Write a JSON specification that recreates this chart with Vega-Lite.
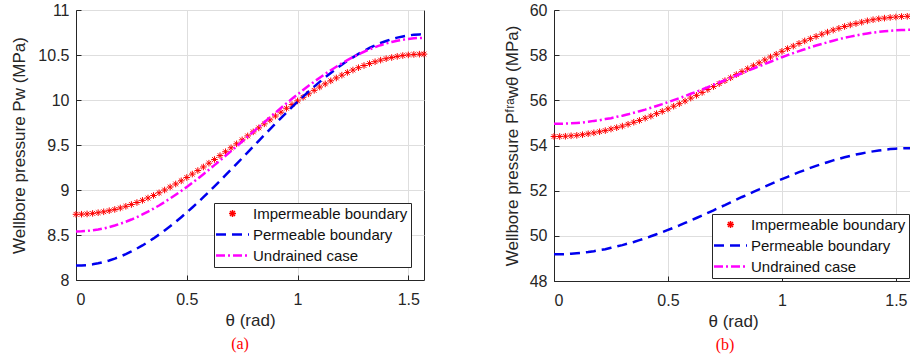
{
  "$schema": "https://vega.github.io/schema/vega-lite/v6.json",
  "background": "white",
  "padding": {"left": 10, "top": 1, "right": 0, "bottom": 0},
  "spacing": 72,
  "datasets": {
    "a": [
      {"t":0,"imp":8.730,"perm":8.160,"und":8.540},{"t":0.025,"imp":8.731,"perm":8.162,"und":8.541},{"t":0.05,"imp":8.734,"perm":8.166,"und":8.545},{"t":0.075,"imp":8.740,"perm":8.174,"und":8.552},{"t":0.1,"imp":8.748,"perm":8.186,"und":8.561},{"t":0.125,"imp":8.758,"perm":8.200,"und":8.573},{"t":0.15,"imp":8.770,"perm":8.217,"und":8.588},{"t":0.175,"imp":8.784,"perm":8.238,"und":8.605},{"t":0.2,"imp":8.800,"perm":8.261,"und":8.625},{"t":0.225,"imp":8.819,"perm":8.288,"und":8.647},{"t":0.25,"imp":8.839,"perm":8.317,"und":8.672},{"t":0.275,"imp":8.861,"perm":8.350,"und":8.699},{"t":0.3,"imp":8.885,"perm":8.384,"und":8.728},{"t":0.325,"imp":8.911,"perm":8.422,"und":8.759},{"t":0.35,"imp":8.939,"perm":8.462,"und":8.793},{"t":0.375,"imp":8.969,"perm":8.505,"und":8.828},{"t":0.4,"imp":9.000,"perm":8.550,"und":8.866},{"t":0.425,"imp":9.033,"perm":8.597,"und":8.906},{"t":0.45,"imp":9.067,"perm":8.646,"und":8.947},{"t":0.475,"imp":9.102,"perm":8.698,"und":8.990},{"t":0.5,"imp":9.139,"perm":8.751,"und":9.034},{"t":0.525,"imp":9.177,"perm":8.806,"und":9.080},{"t":0.55,"imp":9.216,"perm":8.862,"und":9.127},{"t":0.575,"imp":9.256,"perm":8.920,"und":9.176},{"t":0.6,"imp":9.298,"perm":8.979,"und":9.225},{"t":0.625,"imp":9.339,"perm":9.040,"und":9.276},{"t":0.65,"imp":9.382,"perm":9.101,"und":9.327},{"t":0.675,"imp":9.425,"perm":9.164,"und":9.380},{"t":0.7,"imp":9.469,"perm":9.227,"und":9.432},{"t":0.725,"imp":9.513,"perm":9.290,"und":9.485},{"t":0.75,"imp":9.557,"perm":9.354,"und":9.539},{"t":0.775,"imp":9.601,"perm":9.418,"und":9.593},{"t":0.8,"imp":9.646,"perm":9.483,"und":9.646},{"t":0.825,"imp":9.690,"perm":9.547,"und":9.700},{"t":0.85,"imp":9.735,"perm":9.611,"und":9.753},{"t":0.875,"imp":9.779,"perm":9.674,"und":9.807},{"t":0.9,"imp":9.822,"perm":9.737,"und":9.859},{"t":0.925,"imp":9.865,"perm":9.799,"und":9.911},{"t":0.95,"imp":9.908,"perm":9.860,"und":9.963},{"t":0.975,"imp":9.949,"perm":9.921,"und":10.013},{"t":1.0,"imp":9.990,"perm":9.980,"und":10.062},{"t":1.025,"imp":10.030,"perm":10.037,"und":10.111},{"t":1.05,"imp":10.069,"perm":10.094,"und":10.158},{"t":1.075,"imp":10.107,"perm":10.148,"und":10.203},{"t":1.1,"imp":10.144,"perm":10.201,"und":10.248},{"t":1.125,"imp":10.179,"perm":10.252,"und":10.290},{"t":1.15,"imp":10.213,"perm":10.301,"und":10.331},{"t":1.175,"imp":10.245,"perm":10.348,"und":10.370},{"t":1.2,"imp":10.276,"perm":10.393,"und":10.408},{"t":1.225,"imp":10.306,"perm":10.435,"und":10.443},{"t":1.25,"imp":10.333,"perm":10.474,"und":10.476},{"t":1.275,"imp":10.359,"perm":10.512,"und":10.507},{"t":1.3,"imp":10.383,"perm":10.546,"und":10.536},{"t":1.325,"imp":10.405,"perm":10.578,"und":10.563},{"t":1.35,"imp":10.425,"perm":10.607,"und":10.587},{"t":1.375,"imp":10.443,"perm":10.633,"und":10.609},{"t":1.4,"imp":10.459,"perm":10.656,"und":10.628},{"t":1.425,"imp":10.472,"perm":10.676,"und":10.645},{"t":1.45,"imp":10.484,"perm":10.693,"und":10.659},{"t":1.475,"imp":10.494,"perm":10.706,"und":10.670},{"t":1.5,"imp":10.501,"perm":10.717,"und":10.679},{"t":1.525,"imp":10.506,"perm":10.725,"und":10.686},{"t":1.55,"imp":10.509,"perm":10.729,"und":10.689},{"t":1.5708,"imp":10.510,"perm":10.730,"und":10.690}
    ],
    "b": [
      {"t":0,"imp":54.40,"perm":49.18,"und":54.96},{"t":0.025,"imp":54.40,"perm":49.18,"und":54.96},{"t":0.05,"imp":54.41,"perm":49.19,"und":54.97},{"t":0.075,"imp":54.43,"perm":49.21,"und":54.98},{"t":0.1,"imp":54.45,"perm":49.23,"und":55.00},{"t":0.125,"imp":54.48,"perm":49.25,"und":55.02},{"t":0.15,"imp":54.52,"perm":49.28,"und":55.05},{"t":0.175,"imp":54.56,"perm":49.32,"und":55.09},{"t":0.2,"imp":54.61,"perm":49.37,"und":55.12},{"t":0.225,"imp":54.66,"perm":49.41,"und":55.17},{"t":0.25,"imp":54.73,"perm":49.47,"und":55.21},{"t":0.275,"imp":54.79,"perm":49.53,"und":55.27},{"t":0.3,"imp":54.86,"perm":49.59,"und":55.32},{"t":0.325,"imp":54.94,"perm":49.66,"und":55.38},{"t":0.35,"imp":55.03,"perm":49.73,"und":55.45},{"t":0.375,"imp":55.11,"perm":49.81,"und":55.52},{"t":0.4,"imp":55.21,"perm":49.89,"und":55.59},{"t":0.425,"imp":55.30,"perm":49.98,"und":55.67},{"t":0.45,"imp":55.41,"perm":50.07,"und":55.75},{"t":0.475,"imp":55.51,"perm":50.16,"und":55.83},{"t":0.5,"imp":55.62,"perm":50.26,"und":55.92},{"t":0.525,"imp":55.74,"perm":50.36,"und":56.01},{"t":0.55,"imp":55.85,"perm":50.46,"und":56.10},{"t":0.575,"imp":55.97,"perm":50.57,"und":56.19},{"t":0.6,"imp":56.10,"perm":50.68,"und":56.29},{"t":0.625,"imp":56.22,"perm":50.79,"und":56.38},{"t":0.65,"imp":56.35,"perm":50.90,"und":56.48},{"t":0.675,"imp":56.48,"perm":51.02,"und":56.58},{"t":0.7,"imp":56.61,"perm":51.13,"und":56.69},{"t":0.725,"imp":56.74,"perm":51.25,"und":56.79},{"t":0.75,"imp":56.87,"perm":51.36,"und":56.89},{"t":0.775,"imp":57.00,"perm":51.48,"und":57.00},{"t":0.8,"imp":57.14,"perm":51.60,"und":57.10},{"t":0.825,"imp":57.27,"perm":51.72,"und":57.20},{"t":0.85,"imp":57.40,"perm":51.83,"und":57.31},{"t":0.875,"imp":57.53,"perm":51.95,"und":57.41},{"t":0.9,"imp":57.66,"perm":52.06,"und":57.51},{"t":0.925,"imp":57.79,"perm":52.18,"und":57.61},{"t":0.95,"imp":57.92,"perm":52.29,"und":57.71},{"t":0.975,"imp":58.04,"perm":52.40,"und":57.81},{"t":1.0,"imp":58.17,"perm":52.51,"und":57.91},{"t":1.025,"imp":58.29,"perm":52.61,"und":58.00},{"t":1.05,"imp":58.40,"perm":52.72,"und":58.09},{"t":1.075,"imp":58.52,"perm":52.82,"und":58.18},{"t":1.1,"imp":58.63,"perm":52.91,"und":58.26},{"t":1.125,"imp":58.73,"perm":53.01,"und":58.35},{"t":1.15,"imp":58.83,"perm":53.10,"und":58.43},{"t":1.175,"imp":58.93,"perm":53.18,"und":58.50},{"t":1.2,"imp":59.02,"perm":53.26,"und":58.57},{"t":1.225,"imp":59.11,"perm":53.34,"und":58.64},{"t":1.25,"imp":59.19,"perm":53.41,"und":58.71},{"t":1.275,"imp":59.27,"perm":53.48,"und":58.77},{"t":1.3,"imp":59.34,"perm":53.54,"und":58.82},{"t":1.325,"imp":59.40,"perm":53.60,"und":58.87},{"t":1.35,"imp":59.46,"perm":53.65,"und":58.92},{"t":1.375,"imp":59.52,"perm":53.70,"und":58.96},{"t":1.4,"imp":59.57,"perm":53.74,"und":59.00},{"t":1.425,"imp":59.61,"perm":53.78,"und":59.03},{"t":1.45,"imp":59.64,"perm":53.81,"und":59.06},{"t":1.475,"imp":59.67,"perm":53.84,"und":59.08},{"t":1.5,"imp":59.69,"perm":53.86,"und":59.10},{"t":1.525,"imp":59.71,"perm":53.87,"und":59.11},{"t":1.55,"imp":59.72,"perm":53.88,"und":59.12},{"t":1.5708,"imp":59.72,"perm":53.88,"und":59.12}
    ]
  },
  "config": {
    "font": "Liberation Sans",
    "view": {"stroke": "#262626", "strokeWidth": 1},
    "axis": {
      "grid": true, "gridColor": "#dedede", "gridWidth": 1,
      "domainColor": "#262626", "tickColor": "#262626", "tickSize": -5,
      "labelFont": "Liberation Sans", "labelFontSize": 16, "labelColor": "#262626",
      "titleFont": "Liberation Sans", "titleFontSize": 17, "titleColor": "#262626", "titleFontWeight": "normal"
    },
    "legend": {
      "strokeColor": "#262626", "fillColor": "white", "padding": 3, "cornerRadius": 0,
      "labelFont": "Liberation Sans", "labelFontSize": 15, "labelColor": "#111111",
      "symbolSize": 100, "symbolStrokeWidth": 2.5, "rowPadding": 5, "labelOffset": 13, "symbolOffset": 8,
      "labelLimit": 300
    }
  },
  "resolve": {
    "scale": {"color": "independent", "strokeDash": "independent"},
    "legend": {"color": "independent", "strokeDash": "independent"}
  },
  "hconcat": [
    {
      "width": 348, "height": 270,
      "data": {"name": "a"},
      "transform": [{"fold": ["imp", "perm", "und"], "as": ["k", "p"]}],
      "title": {"text": "(a)", "orient": "bottom", "font": "Liberation Serif", "fontSize": 16, "fontWeight": "normal", "color": "#ff0000", "offset": 8, "dx": -10},
      "encoding": {
        "x": {"field": "t", "type": "quantitative", "scale": {"domain": [0, 1.5708], "nice": false, "zero": false},
              "axis": {"values": [0, 0.5, 1, 1.5], "format": "~g", "title": "θ (rad)", "labelPadding": 16, "titlePadding": 5}},
        "y": {"field": "p", "type": "quantitative", "scale": {"domain": [8, 11], "nice": false, "zero": false},
              "axis": {"values": [8, 8.5, 9, 9.5, 10, 10.5, 11], "format": "~g", "title": "Wellbore pressure Pw (MPa)", "labelPadding": 12, "titlePadding": 9}},
        "color": {"field": "k", "type": "nominal",
                  "scale": {"domain": ["imp", "perm", "und"], "range": ["#ff0000", "#0000ee", "#ff00ff"]},
                  "legend": {"orient": "bottom-right", "offset": 13, "title": null,
                             "labelExpr": "{'imp':'Impermeable boundary','perm':'Permeable boundary','und':'Undrained case'}[datum.label]",
                             "encode": {"symbols": {"update": {
                               "shape": {"signal": "datum.value === 'imp' ? 'M-0.7,0L0.7,0M0,-0.7L0,0.7M-0.5,-0.5L0.5,0.5M-0.5,0.5L0.5,-0.5' : 'M-3.3,0L3.3,0'"},
                               "strokeWidth": {"signal": "datum.value === 'imp' ? 1.5 : 2.5"},
                               "fill": {"value": "transparent"},
                               "strokeDash": {"signal": "datum.value === 'perm' ? [10, 6] : (datum.value === 'und' ? [9, 3, 2, 3] : [1, 0])"}
                             }}}}}
      },
      "layer": [
        {
          "transform": [{"filter": "datum.k === 'imp'"}],
          "mark": {"type": "point", "filled": false, "size": 100, "strokeWidth": 1, "opacity": 1,
                   "shape": "M-0.66,0L0.66,0M0,-0.66L0,0.66M-0.47,-0.47L0.47,0.47M-0.47,0.47L0.47,-0.47"}
        },
        {
          "transform": [{"filter": "datum.k !== 'imp'"}],
          "mark": {"type": "line", "strokeWidth": 2.5},
          "encoding": {
            "strokeDash": {"field": "k", "type": "nominal",
                           "scale": {"domain": ["imp", "perm", "und"], "range": [[1, 0], [10, 6], [9, 3, 2, 3]]},
                           "legend": null}
          }
        }
      ]
    },
    {
      "width": 358, "height": 271,
      "data": {"name": "b"},
      "transform": [{"fold": ["imp", "perm", "und"], "as": ["k", "p"]}],
      "title": {"text": "(b)", "orient": "bottom", "font": "Liberation Serif", "fontSize": 16, "fontWeight": "normal", "color": "#ff0000", "offset": 8, "dx": -8},
      "encoding": {
        "x": {"field": "t", "type": "quantitative", "scale": {"domain": [0, 1.5708], "nice": false, "zero": false},
              "axis": {"values": [0, 0.5, 1, 1.5], "format": "~g", "title": "θ (rad)", "labelPadding": 16, "titlePadding": 5}},
        "y": {"field": "p", "type": "quantitative", "scale": {"domain": [48, 60], "nice": false, "zero": false},
              "axis": {"values": [48, 50, 52, 54, 56, 58, 60], "format": "~g", "title": "Wellbore pressure Pᶠʳᵃwθ (MPa)", "labelPadding": 12, "titlePadding": 8}},
        "color": {"field": "k", "type": "nominal",
                  "scale": {"domain": ["imp", "perm", "und"], "range": ["#ff0000", "#0000ee", "#ff00ff"]},
                  "legend": {"orient": "bottom-right", "offset": 3, "title": null,
                             "labelExpr": "{'imp':'Impermeable boundary','perm':'Permeable boundary','und':'Undrained case'}[datum.label]",
                             "encode": {"symbols": {"update": {
                               "shape": {"signal": "datum.value === 'imp' ? 'M-0.7,0L0.7,0M0,-0.7L0,0.7M-0.5,-0.5L0.5,0.5M-0.5,0.5L0.5,-0.5' : 'M-3.3,0L3.3,0'"},
                               "strokeWidth": {"signal": "datum.value === 'imp' ? 1.5 : 2.5"},
                               "fill": {"value": "transparent"},
                               "strokeDash": {"signal": "datum.value === 'perm' ? [10, 6] : (datum.value === 'und' ? [9, 3, 2, 3] : [1, 0])"}
                             }}}}}
      },
      "layer": [
        {
          "transform": [{"filter": "datum.k === 'imp'"}],
          "mark": {"type": "point", "filled": false, "size": 100, "strokeWidth": 1, "opacity": 1,
                   "shape": "M-0.66,0L0.66,0M0,-0.66L0,0.66M-0.47,-0.47L0.47,0.47M-0.47,0.47L0.47,-0.47"}
        },
        {
          "transform": [{"filter": "datum.k !== 'imp'"}],
          "mark": {"type": "line", "strokeWidth": 2.5},
          "encoding": {
            "strokeDash": {"field": "k", "type": "nominal",
                           "scale": {"domain": ["imp", "perm", "und"], "range": [[1, 0], [10, 6], [9, 3, 2, 3]]},
                           "legend": null}
          }
        }
      ]
    }
  ]
}
